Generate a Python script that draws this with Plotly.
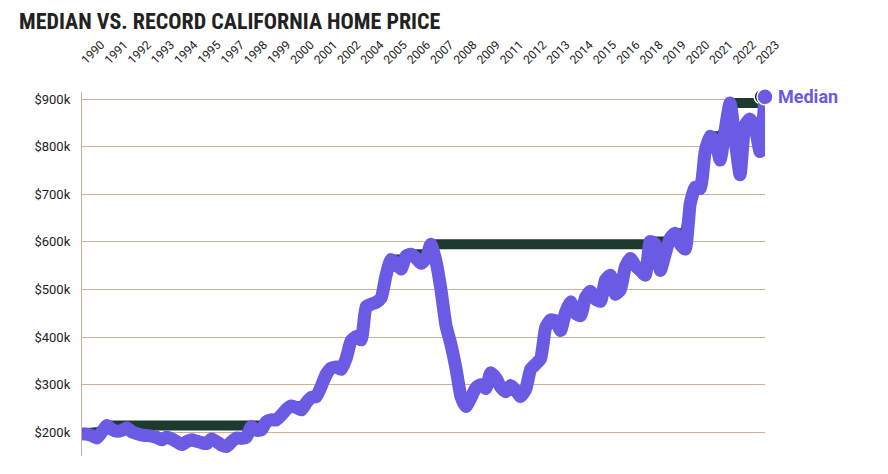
import numpy as np
import pandas as pd
import plotly.graph_objects as go

# quarterly median CA home price, thousands of dollars, Jan 1990 - Apr 2024
median = [
    197, 196, 193, 188, 201, 214, 206, 202, 204, 209, 201, 197, 194, 193, 192, 189,
    184, 190, 186, 180, 174, 180, 184, 181, 178, 176, 186, 180, 173, 170, 180, 188,
    187, 190, 212, 204, 205, 222, 226, 226, 236, 248, 255, 252, 247, 262, 273, 275,
    297, 322, 335, 337, 332, 355, 392, 401, 394, 464, 469, 473, 482, 530, 563, 555,
    543, 570, 574, 566, 555, 565, 595, 560, 500, 425, 385, 335, 275, 254, 272, 293,
    300, 292, 325, 314, 295, 285, 298, 288, 275, 290, 332, 343, 355, 420, 436, 434,
    414, 452, 474, 450, 445, 483, 496, 480, 475, 520, 530, 490, 500, 548, 565, 550,
    540, 530, 601, 595, 540, 575, 608, 618, 595, 585, 680, 715, 712, 790, 822, 812,
    772, 835, 892, 815, 741, 845, 858, 840, 790, 905,
]
dates = pd.date_range("1990-01-01", periods=len(median), freq="3MS")
record = np.maximum.accumulate(median)

y_ticks = [200, 300, 400, 500, 600, 700, 800, 900]

PURPLE = "#6b5ae3"
GREEN = "#1c3a2e"
GRID = "#cbb09b"

fig = go.Figure()

# record line sits under the median
fig.add_trace(go.Scatter(
    x=dates, y=record, mode="lines",
    line=dict(color=GREEN, width=10),
    hoverinfo="skip", showlegend=False,
))
fig.add_trace(go.Scatter(
    x=[dates[-1] - pd.DateOffset(months=2)], y=[record[-1]], mode="markers",
    marker=dict(color="black", size=15, line=dict(color="white", width=1.5)),
    cliponaxis=False, hoverinfo="skip", showlegend=False,
))
fig.add_trace(go.Scatter(
    x=dates, y=median, mode="lines",
    line=dict(color=PURPLE, width=13, shape="spline", smoothing=0.5),
    showlegend=False,
))
fig.add_trace(go.Scatter(
    x=[dates[-1]], y=[median[-1]], mode="markers",
    marker=dict(color=PURPLE, size=16, line=dict(color="white", width=1.5)),
    cliponaxis=False, hoverinfo="skip", showlegend=False,
))

fig.add_annotation(
    x=dates[-1], y=median[-1], text="<b>Median</b>",
    xanchor="left", yanchor="middle", xshift=11, showarrow=False,
    font=dict(family="Roboto", size=18, color=PURPLE),
)

# title as a paper annotation so it stays inside the figure's top edge
fig.add_annotation(
    xref="paper", yref="paper", x=0, y=1, xshift=-64, yshift=84,
    xanchor="left", yanchor="top", showarrow=False, borderpad=0,
    text="<b>MEDIAN VS. RECORD CALIFORNIA HOME PRICE</b>",
    font=dict(family="Liberation Sans Narrow, Roboto Condensed, Roboto", size=22, color="#222"),
)

# the page body adds an 8px offset, so the figure is drawn 8px smaller
fig.update_layout(
    width=880, height=466,
    margin=dict(l=74, r=123, t=84, b=18),
    paper_bgcolor="white", plot_bgcolor="white",
    xaxis=dict(
        type="date", side="top", automargin=False,
        range=[dates[0], dates[-1]],
        tick0="1990-01-01", dtick="M14", tickformat="%Y",
        tickangle=-45, ticklabelstandoff=22,
        showgrid=False, zeroline=False, showline=False, ticks="",
        tickfont=dict(family="Roboto", size=12, color="#222"),
    ),
    yaxis=dict(
        range=[150, 915], tickvals=y_ticks, automargin=False,
        ticktext=[f"${v}k" for v in y_ticks],
        showgrid=True, gridcolor=GRID, gridwidth=1.3,
        zeroline=False, showline=True, linecolor=GRID, linewidth=1.3,
        ticks="", ticklabelstandoff=8,
        tickfont=dict(family="Roboto", size=13, color="#222"),
    ),
)

fig.write_html("out.html")
